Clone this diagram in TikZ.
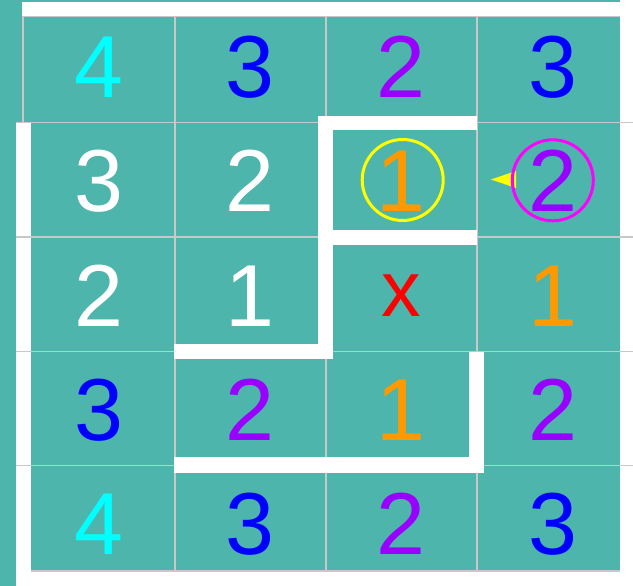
\documentclass[tikz,border=0pt]{standalone}
\usepackage{fontspec}
\setmainfont{Liberation Sans}
\definecolor{bgteal}{HTML}{4DB5AB}
\definecolor{gridgray}{HTML}{C8C8C8}
\definecolor{ncyan}{HTML}{00FFFF}
\definecolor{nblue}{HTML}{0000FF}
\definecolor{npurple}{HTML}{9900FF}
\definecolor{norange}{HTML}{FF9900}
\definecolor{nred}{HTML}{FF0000}
\definecolor{nyellow}{HTML}{FFFF00}
\definecolor{nmagenta}{HTML}{FF00FF}
\tikzset{
  wallbox/.style={fill=white},
  gridline/.style={draw=gridgray, line width=1.3pt},
  num/.style={anchor=base, inner sep=0pt, font=\fontsize{88}{88}\selectfont},
  ring/.style={circle, draw=#1, line width=3pt, minimum size=81pt, inner sep=0pt}
}
\begin{document}
\begin{tikzpicture}[x=1pt,y=-1pt]
\useasboundingbox (0,0) rectangle (633,586);
\fill[white] (0,0) rectangle (633,586);
% teal field
\fill[bgteal] (0,0) rectangle (620,571);
\fill[bgteal] (0,571) rectangle (16,586);
% outer walls
\fill[white] (22,2) rectangle (633,16);
\fill[white] (16,122) rectangle (31,586);
% grid lines
\foreach \y in {122.7,237,351.3,465.6} \draw[gridline] (16,\y) -- (633,\y);
\draw[gridline] (23,16.5) -- (620,16.5);
\draw[gridline] (31,571) -- (620,571);
\draw[gridline] (23,16.5) -- (23,122.7);
\foreach \x in {175,326,477} \draw[gridline] (\x,16.5) -- (\x,571);
% inner walls
\fill[wallbox] (318,116) rectangle (477,130);
\fill[wallbox] (318,116) rectangle (333,359);
\fill[wallbox] (318,230) rectangle (477,245);
\fill[wallbox] (174,344) rectangle (333,359);
\fill[wallbox] (174,457) rectangle (484,473);
\fill[wallbox] (469,352) rectangle (484,473);
% numbers (baseline = row centre + 32)
% row 1
\node[num, text=ncyan]   (r1c1) at (98.7,97.6) {4};
\node[num, text=nblue]   (r1c2) at (250,97.6) {3};
\node[num, text=npurple] (r1c3) at (401.3,97.6) {2};
\node[num, text=nblue]   (r1c4) at (552.6,97.6) {3};
% row 2
\node[num, text=white]   (r2c1) at (98.7,211.8) {3};
\node[num, text=white]   (r2c2) at (250,211.8) {2};
\node[num, text=norange] (r2c3) at (401.3,211.8) {1};
\node[num, text=npurple] (r2c4) at (552.6,211.8) {2};
% row 3
\node[num, text=white]   (r3c1) at (98.7,326.1) {2};
\node[num, text=white]   (r3c2) at (250,326.1) {1};
\node[num, text=nred, font=\fontsize{79}{79}\selectfont] (r3c3) at (401.3,316) {x};
\node[num, text=norange] (r3c4) at (552.6,326.1) {1};
% row 4
\node[num, text=nblue]   (r4c1) at (98.7,440.4) {3};
\node[num, text=npurple] (r4c2) at (250,440.4) {2};
\node[num, text=norange] (r4c3) at (401.3,440.4) {1};
\node[num, text=npurple] (r4c4) at (552.6,440.4) {2};
% row 5
\node[num, text=ncyan]   (r5c1) at (98.7,554.7) {4};
\node[num, text=nblue]   (r5c2) at (250,554.7) {3};
\node[num, text=npurple] (r5c3) at (401.3,554.7) {2};
\node[num, text=nblue]   (r5c4) at (552.6,554.7) {3};
% markers
\fill[nyellow] (491,179.5) -- (516,171) -- (516,188) -- cycle;
\node[ring=nyellow]  (cur)  at (402.7,180) {};
\node[ring=nmagenta] (nxt)  at (552.8,180.3) {};
\end{tikzpicture}
\end{document}
